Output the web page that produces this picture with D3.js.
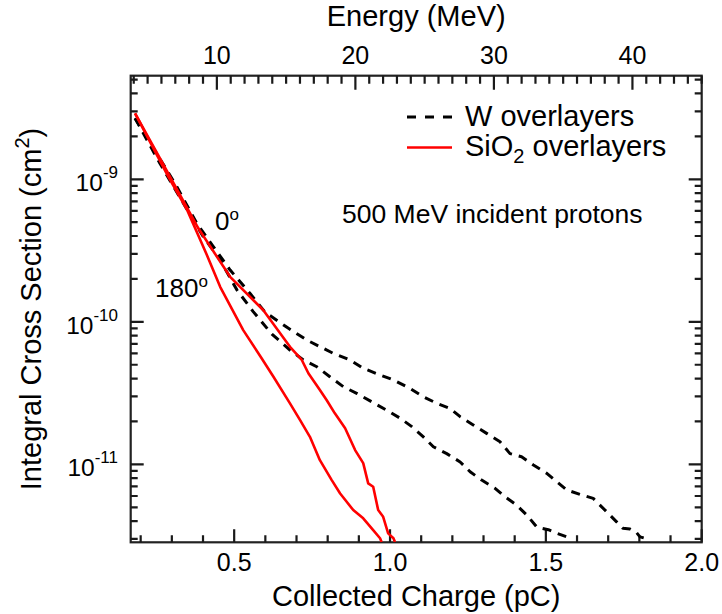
<!DOCTYPE html>
<html>
<head>
<meta charset="utf-8">
<script src="https://cdn.jsdelivr.net/npm/d3@7"></script>
<style>
  html, body { margin: 0; padding: 0; background: #fff; }
  svg { display: block; font-family: "Liberation Sans", Arial, Helvetica, sans-serif; }
</style>
</head>
<body>
<svg id="chart" width="722" height="614"></svg>
<script>
// ---------------- data ----------------
// Collected charge (pC) vs integral cross section (cm^2)
const w0Charge   = [0.182,0.251,0.316,0.380,0.433,0.487,0.551,0.599,0.673,0.733,0.818,0.872,0.914,0.968,1.011,1.064,1.107,1.150,1.192,1.225,1.267,1.310,1.353,1.385,1.422,1.460,1.503,1.535,1.567,1.610,1.652,1.695,1.727,1.747,1.770,1.791,1.802,1.824];
const w0Sigma    = [2.68e-9,1.52e-9,8.87e-10,4.91e-10,3.37e-10,2.31e-10,1.58e-10,1.17e-10,9.04e-11,7.45e-11,6.01e-11,5.40e-11,4.72e-11,4.24e-11,3.91e-11,3.41e-11,2.98e-11,2.68e-11,2.47e-11,2.16e-11,1.89e-11,1.65e-11,1.44e-11,1.19e-11,1.13e-11,9.89e-12,8.65e-12,7.55e-12,6.61e-12,6.15e-12,5.77e-12,4.65e-12,3.95e-12,3.56e-12,3.52e-12,3.32e-12,3.10e-12,3.01e-12];

const w180Charge = [0.182,0.262,0.337,0.401,0.455,0.509,0.561,0.621,0.679,0.722,0.765,0.807,0.850,0.893,0.941,0.989,1.032,1.070,1.107,1.139,1.182,1.225,1.257,1.294,1.337,1.369,1.406,1.439,1.471,1.508,1.533,1.567];
const w180Sigma  = [2.68e-9,1.29e-9,6.79e-10,3.95e-10,2.72e-10,1.67e-10,1.18e-10,8.20e-11,6.34e-11,5.40e-11,4.84e-11,4.12e-11,3.51e-11,3.15e-11,2.75e-11,2.40e-11,2.11e-11,1.84e-11,1.56e-11,1.33e-11,1.19e-11,1.04e-11,8.87e-12,7.76e-12,6.79e-12,5.93e-12,5.18e-12,4.41e-12,3.63e-12,3.48e-12,3.30e-12,3.10e-12];

const s0Charge   = [0.182,0.262,0.385,0.487,0.593,0.679,0.717,0.738,0.775,0.797,0.823,0.856,0.888,0.914,0.930,0.946,0.962,0.978,0.994,1.011,1.016];
const s0Sigma    = [2.90e-9,1.40e-9,4.53e-10,2.07e-10,1.21e-10,6.68e-11,5.40e-11,4.36e-11,3.32e-11,2.82e-11,2.28e-11,1.79e-11,1.26e-11,1.02e-11,7.36e-12,6.97e-12,4.78e-12,4.29e-12,3.28e-12,3.03e-12,2.85e-12];

const s180Charge = [0.182,0.289,0.349,0.410,0.455,0.529,0.588,0.626,0.679,0.711,0.743,0.775,0.813,0.840,0.882,0.914,0.946,0.968,0.973];
const s180Sigma  = [2.90e-9,1.04e-9,6.10e-10,3.03e-10,1.76e-10,8.75e-11,5.55e-11,4.12e-11,2.68e-11,2.05e-11,1.56e-11,1.07e-11,7.76e-12,6.25e-12,4.78e-12,4.18e-12,3.46e-12,3.03e-12,2.85e-12];

const chargeTicks = [0.5, 1.0, 1.5, 2.0];
const chargeMinorTicks = [0.2,0.3,0.4,0.6,0.7,0.8,0.9,1.1,1.2,1.3,1.4,1.6,1.7,1.8,1.9];
const energyTicks = [10, 20, 30, 40];
const energyMinorTicks = [4,5,6,7,8,9,11,12,13,14,15,16,17,18,19,21,22,23,24,25,26,27,28,29,31,32,33,34,35,36,37,38,39,41,42,43,44,45];
const decadeTicks = [1e-9, 1e-10, 1e-11];
const decadeExponents = ["-9", "-10", "-11"];
const MeVperPC = 22.5;

// ---------------- layout ----------------
const svg = d3.select("#chart");
const L = 130.7, R = 701.7, T = 75.7, B = 542.3;
const x = d3.scaleLinear().domain([0.168, 2.0]).range([L, R]);
const xE = d3.scaleLinear().domain([0.168 * MeVperPC, 2.0 * MeVperPC]).range([L, R]);
const y = d3.scaleLog().domain([2.84e-12, 5.33e-9]).range([B, T]);

const axisColor = "#222";

svg.append("defs").append("clipPath").attr("id", "clip")
  .append("rect").attr("x", L).attr("y", T).attr("width", R - L).attr("height", B - T);

// minor y ticks (2..9 per decade)
const yMinor = [];
for (let e = -12; e <= -9; e++) for (let m = 2; m <= 9; m++) {
  const v = m * Math.pow(10, e);
  if (v >= 2.84e-12 && v <= 5.33e-9) yMinor.push(v);
}

// frame
svg.append("rect").attr("x", L).attr("y", T).attr("width", R - L).attr("height", B - T)
  .attr("fill", "none").attr("stroke", axisColor).attr("stroke-width", 2.2);

// ticks as one path built from the scales
const tp = d3.path();
chargeMinorTicks.forEach(v => { const px = x(v); tp.moveTo(px, B); tp.lineTo(px, B - 7); });
chargeTicks.forEach(v => { const px = x(v); tp.moveTo(px, B); tp.lineTo(px, B - 13); });
energyMinorTicks.forEach(v => { const px = xE(v); tp.moveTo(px, T); tp.lineTo(px, T + 8); });
energyTicks.forEach(v => { const px = xE(v); tp.moveTo(px, T); tp.lineTo(px, T + 14); });
yMinor.forEach(v => { const py = y(v); tp.moveTo(L, py); tp.lineTo(L + 7, py); tp.moveTo(R, py); tp.lineTo(R - 7, py); });
decadeTicks.forEach(v => { const py = y(v); tp.moveTo(L, py); tp.lineTo(L + 13, py); tp.moveTo(R, py); tp.lineTo(R - 13, py); });
svg.append("path").attr("d", tp.toString())
  .attr("fill", "none").attr("stroke", "#1a1a1a").attr("stroke-width", 2.2);

// tick labels
svg.append("g").selectAll("text").data(chargeTicks).join("text")
  .attr("x", d => x(d)).attr("y", 571).attr("text-anchor", "middle")
  .attr("font-size", 25).attr("fill", "#000").text(d => d3.format(".1f")(d));
svg.append("g").selectAll("text").data(energyTicks).join("text")
  .attr("x", d => xE(d)).attr("y", 64).attr("text-anchor", "middle")
  .attr("font-size", 25).attr("fill", "#000").text(d => d);
const yl = svg.append("g").selectAll("text").data(decadeTicks).join("text")
  .attr("x", 118).attr("y", d => y(d) + 12).attr("text-anchor", "end")
  .attr("font-size", 24.5).attr("fill", "#000");
yl.append("tspan").text("10");
yl.append("tspan").attr("dy", -13).attr("font-size", 17).text((d, i) => decadeExponents[i]);

// axis titles
svg.append("text").attr("x", (L + R) / 2).attr("y", 606).attr("text-anchor", "middle")
  .attr("font-size", 29).attr("fill", "#000").text("Collected Charge (pC)");
svg.append("text").attr("x", (L + R) / 2).attr("y", 26).attr("text-anchor", "middle")
  .attr("font-size", 29).attr("fill", "#000").text("Energy (MeV)");
const yt = svg.append("text").attr("transform", `translate(41,${(T + B) / 2}) rotate(-90)`)
  .attr("text-anchor", "middle").attr("font-size", 29).attr("fill", "#000");
yt.append("tspan").text("Integral Cross Section (cm");
yt.append("tspan").attr("dy", -12).attr("font-size", 20).text("2");
yt.append("tspan").attr("dy", 12).text(")");

// curves
const line = d3.line().x(d => x(d[0])).y(d => y(d[1]));
const plot = svg.append("g").attr("clip-path", "url(#clip)");
const series = [
  { c: w0Charge, s: w0Sigma, color: "#000", dash: "9,7", w: 3 },
  { c: w180Charge, s: w180Sigma, color: "#000", dash: "9,7", w: 3 },
  { c: s0Charge, s: s0Sigma, color: "#f00", dash: null, w: 2.6 },
  { c: s180Charge, s: s180Sigma, color: "#f00", dash: null, w: 2.6 }
];
series.forEach(sr => {
  plot.append("path").datum(d3.zip(sr.c, sr.s)).attr("d", line)
    .attr("fill", "none").attr("stroke", sr.color).attr("stroke-width", sr.w)
    .attr("stroke-dasharray", sr.dash).attr("stroke-linejoin", "round");
});

// legend
const lg = svg.append("g");
lg.append("line").attr("x1", 407).attr("x2", 452).attr("y1", 117).attr("y2", 117)
  .attr("stroke", "#000").attr("stroke-width", 3).attr("stroke-dasharray", "9,9");
lg.append("line").attr("x1", 407).attr("x2", 452).attr("y1", 147.5).attr("y2", 147.5)
  .attr("stroke", "#f00").attr("stroke-width", 2.6);
lg.append("text").attr("x", 465).attr("y", 126).attr("font-size", 29).attr("fill", "#000").text("W overlayers");
const st = lg.append("text").attr("x", 465).attr("y", 156).attr("font-size", 29).attr("fill", "#000");
st.append("tspan").text("SiO");
st.append("tspan").attr("dy", 7).attr("font-size", 20).text("2");
st.append("tspan").attr("dy", -7).text(" overlayers");

// annotations
svg.append("text").attr("x", 342).attr("y", 223).attr("font-size", 26.5).attr("fill", "#000")
  .text("500 MeV incident protons");
const a0 = svg.append("text").attr("x", 215).attr("y", 230).attr("font-size", 26).attr("fill", "#000");
a0.append("tspan").text("0");
a0.append("tspan").attr("dy", -10).attr("font-size", 17).text("o");
const a180 = svg.append("text").attr("x", 155).attr("y", 297).attr("font-size", 26).attr("fill", "#000");
a180.append("tspan").text("180");
a180.append("tspan").attr("dy", -10).attr("font-size", 17).text("o");
</script>
</body>
</html>
